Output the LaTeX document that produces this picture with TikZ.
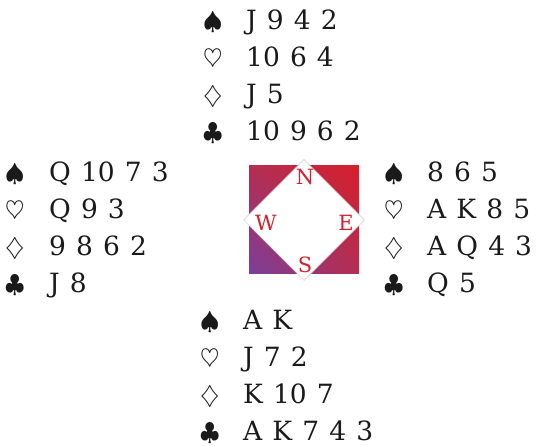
\documentclass[tikz,border=0pt]{standalone}
\usepackage{fontspec}
\setmainfont{DejaVu Serif}[WordSpace=1.2]
\usepackage{xcolor}
\usetikzlibrary{shapes.geometric,shadings}
\definecolor{compassRed}{HTML}{D61F2C}
\definecolor{compassPurple}{HTML}{7A3E9B}
\definecolor{compassMid}{HTML}{B42E52}
\definecolor{ink}{HTML}{1A1A1A}

\tikzset{
  suit/.style={anchor=base west, inner sep=0pt, font=\fontsize{35}{35}\selectfont, text=ink},
  cards/.style={anchor=base west, inner sep=0pt, font=\fontsize{26.5}{26.5}\selectfont, text=ink},
  seat/.style={inner sep=0pt, font=\fontsize{21}{21}\selectfont, text=compassRed}
}

\begin{document}
\begin{tikzpicture}[x=1pt, y=-1pt]
\useasboundingbox (0,0) rectangle (536,446);

% compass in the middle
\shade[upper left=compassMid, upper right=compassRed,
       lower left=compassPurple, lower right=compassMid]
  (249,166) rectangle (359,274);
\node[diamond, draw=black!20, line width=0.5pt, fill=white,
      minimum width=121pt, minimum height=121pt, inner sep=0pt] (compass) at (304,220) {};
\node[seat] (seatN) at (305,177) {N};
\node[seat] (seatW) at (266,223) {W};
\node[seat] (seatE) at (346,223) {E};
\node[seat] (seatS) at (305,265) {S};

% north
\foreach \s/\c [count=\i from 0] in {\spadesuit/J 9 4 2, \heartsuit/10 6 4, \diamondsuit/J 5, \clubsuit/10 9 6 2}{
  \node[suit] (north-suit-\i) at (203,{30+37*\i}) {$\s$};
  \node[cards] (north-cards-\i) at (246,{30+37*\i}) {\c};
}
% west
\foreach \s/\c [count=\i from 0] in {\spadesuit/Q 10 7 3, \heartsuit/Q 9 3, \diamondsuit/9 8 6 2, \clubsuit/J 8}{
  \node[suit] (west-suit-\i) at (5,{182+37*\i}) {$\s$};
  \node[cards] (west-cards-\i) at (49,{182+37*\i}) {\c};
}
% east
\foreach \s/\c [count=\i from 0] in {\spadesuit/8 6 5, \heartsuit/A K 8 5, \diamondsuit/A Q 4 3, \clubsuit/Q 5}{
  \node[suit] (east-suit-\i) at (384,{182+37*\i}) {$\s$};
  \node[cards] (east-cards-\i) at (427,{182+37*\i}) {\c};
}
% south
\foreach \s/\c [count=\i from 0] in {\spadesuit/A K, \heartsuit/J 7 2, \diamondsuit/K 10 7, \clubsuit/A K 7 4 3}{
  \node[suit] (south-suit-\i) at (200,{330+37*\i}) {$\s$};
  \node[cards] (south-cards-\i) at (243,{330+37*\i}) {\c};
}
\end{tikzpicture}
\end{document}
